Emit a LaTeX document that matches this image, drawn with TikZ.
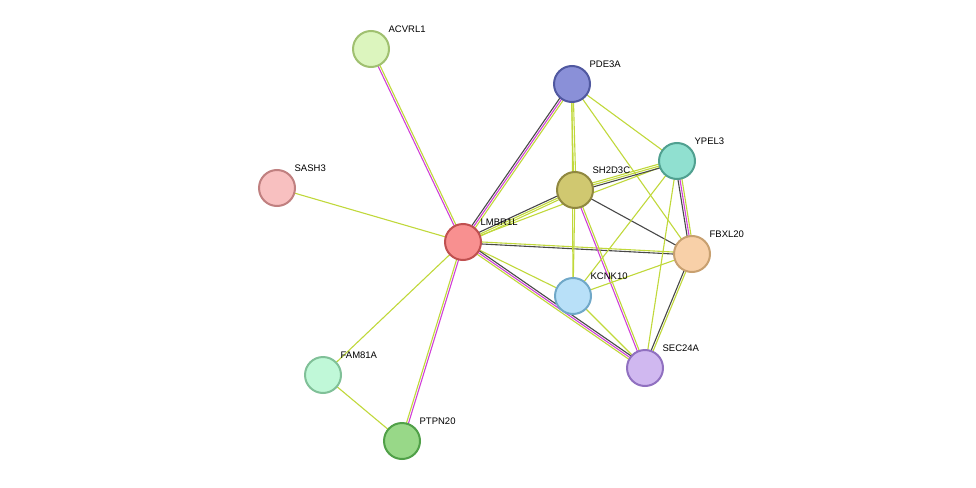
\documentclass[tikz,border=0pt]{standalone}
\usepackage{fontspec}
\setmainfont{Liberation Sans}
\usetikzlibrary{calc,backgrounds}
\definecolor{tm}{HTML}{C0D83A}
\definecolor{ex}{HTML}{D040D8}
\definecolor{co}{HTML}{484848}
\tikzset{
  prot/.style={circle, draw, line width=2pt, minimum size=36pt, inner sep=0pt},
  lbl/.style={font=\fontsize{9.5}{11}\selectfont, xshift=3pt, yshift=2pt, inner sep=1pt},
  lnk/.style={line width=1.1pt}
}
% one line of an edge, shifted sideways by #3
\newcommand{\lnkline}[4]{\draw[lnk,#4] ($(#1)!#3!90:(#2)$) -- ($(#2)!#3!-90:(#1)$);}
\begin{document}
\begin{tikzpicture}[x=1pt,y=-1pt]
\useasboundingbox (0,0) rectangle (976,487);
% Proteins
\node[prot, fill={rgb,255:red,220;green,245;blue,190}, draw={rgb,255:red,160;green,192;blue,112}] (acvrl1) at (371,49) {};
\node[prot, fill={rgb,255:red,138;green,144;blue,216}, draw={rgb,255:red,80;green,88;blue,160}] (pde3a) at (572,84) {};
\node[prot, fill={rgb,255:red,144;green,224;blue,208}, draw={rgb,255:red,80;green,160;blue,144}] (ypel3) at (677,161) {};
\node[prot, fill={rgb,255:red,248;green,192;blue,192}, draw={rgb,255:red,192;green,128;blue,128}] (sash3) at (277,188) {};
\node[prot, fill={rgb,255:red,208;green,200;blue,112}, draw={rgb,255:red,144;green,136;blue,64}] (sh2d3c) at (575,190) {};
\node[prot, fill={rgb,255:red,248;green,144;blue,144}, draw={rgb,255:red,192;green,80;blue,80}] (lmbr1l) at (463,242) {};
\node[prot, fill={rgb,255:red,248;green,208;blue,168}, draw={rgb,255:red,200;green,160;blue,112}] (fbxl20) at (692,254) {};
\node[prot, fill={rgb,255:red,184;green,224;blue,248}, draw={rgb,255:red,112;green,168;blue,200}] (kcnk10) at (573,296) {};
\node[prot, fill={rgb,255:red,208;green,184;blue,240}, draw={rgb,255:red,144;green,112;blue,192}] (sec24a) at (645,368) {};
\node[prot, fill={rgb,255:red,192;green,248;blue,216}, draw={rgb,255:red,128;green,192;blue,152}] (fam81a) at (323,375) {};
\node[prot, fill={rgb,255:red,152;green,216;blue,136}, draw={rgb,255:red,80;green,160;blue,72}] (ptpn20) at (402,441) {};
% Labels
\foreach \n/\t in {acvrl1/ACVRL1, pde3a/PDE3A, ypel3/YPEL3, sash3/SASH3, sh2d3c/SH2D3C,
  lmbr1l/LMBR1L, fbxl20/FBXL20, kcnk10/KCNK10, sec24a/SEC24A, fam81a/FAM81A, ptpn20/PTPN20}
  \node[lbl, anchor=south west] at (\n.45) {\t};
% Edges
\begin{scope}[on background layer]
\lnkline{acvrl1}{lmbr1l}{-1pt}{ex} \lnkline{acvrl1}{lmbr1l}{1pt}{tm}
\lnkline{sash3}{lmbr1l}{0pt}{tm}
\lnkline{fam81a}{lmbr1l}{0pt}{tm}
\lnkline{fam81a}{ptpn20}{0pt}{tm}
\lnkline{ptpn20}{lmbr1l}{-1pt}{ex} \lnkline{ptpn20}{lmbr1l}{1pt}{tm}
\lnkline{pde3a}{lmbr1l}{-2pt}{co} \lnkline{pde3a}{lmbr1l}{0pt}{ex} \lnkline{pde3a}{lmbr1l}{2pt}{tm}
\lnkline{sh2d3c}{lmbr1l}{-2pt}{co} \lnkline{sh2d3c}{lmbr1l}{0pt}{tm} \lnkline{sh2d3c}{lmbr1l}{2pt}{tm}
\lnkline{lmbr1l}{fbxl20}{-1pt}{co} \lnkline{lmbr1l}{fbxl20}{1pt}{tm}
\lnkline{lmbr1l}{kcnk10}{0pt}{tm}
\lnkline{lmbr1l}{sec24a}{-2pt}{tm} \lnkline{lmbr1l}{sec24a}{0pt}{ex} \lnkline{lmbr1l}{sec24a}{2pt}{co}
\lnkline{lmbr1l}{ypel3}{0pt}{tm}
\lnkline{pde3a}{sh2d3c}{-1pt}{tm} \lnkline{pde3a}{sh2d3c}{1pt}{tm}
\lnkline{pde3a}{kcnk10}{0pt}{tm}
\lnkline{pde3a}{ypel3}{0pt}{tm}
\lnkline{pde3a}{fbxl20}{0pt}{tm}
\lnkline{sh2d3c}{ypel3}{-2pt}{co} \lnkline{sh2d3c}{ypel3}{0pt}{tm} \lnkline{sh2d3c}{ypel3}{2pt}{tm}
\lnkline{sh2d3c}{fbxl20}{0pt}{co}
\lnkline{sh2d3c}{kcnk10}{0pt}{tm}
\lnkline{sh2d3c}{sec24a}{-1pt}{ex} \lnkline{sh2d3c}{sec24a}{1pt}{tm}
\lnkline{ypel3}{fbxl20}{-2pt}{co} \lnkline{ypel3}{fbxl20}{0pt}{ex} \lnkline{ypel3}{fbxl20}{2pt}{tm}
\lnkline{ypel3}{sec24a}{0pt}{tm}
\lnkline{ypel3}{kcnk10}{0pt}{tm}
\lnkline{fbxl20}{sec24a}{-1pt}{co} \lnkline{fbxl20}{sec24a}{1pt}{tm}
\lnkline{fbxl20}{kcnk10}{0pt}{tm}
\lnkline{kcnk10}{sec24a}{0pt}{tm}
\end{scope}
\end{tikzpicture}
\end{document}
